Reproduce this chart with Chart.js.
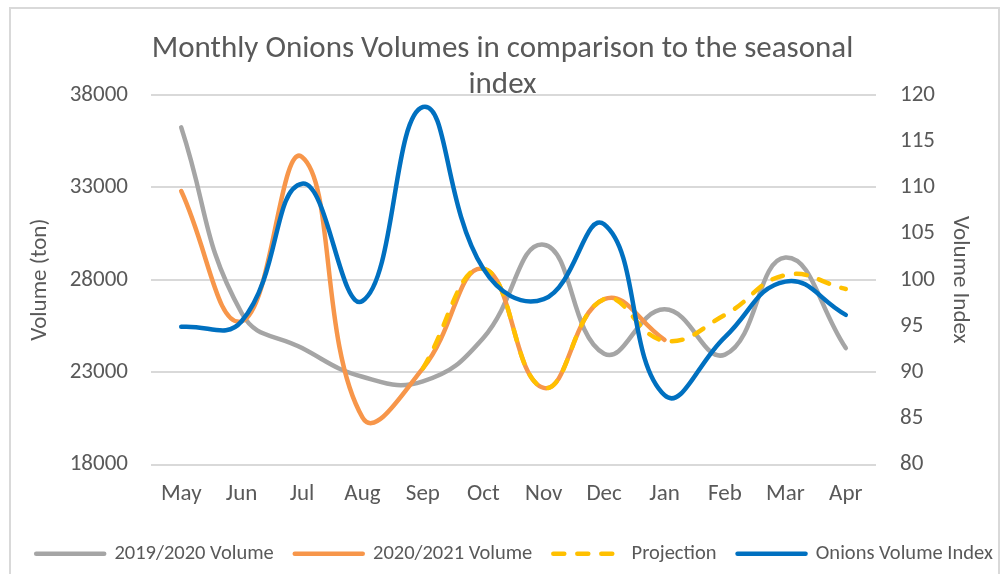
<!DOCTYPE html>
<html>
<head>
<meta charset="utf-8">
<script src="https://cdn.jsdelivr.net/npm/chart.js@4.4.1/dist/chart.umd.min.js"></script>
<style>
  html, body { margin: 0; padding: 0; background: #fff; }
  #wrap { position: absolute; left: 0; top: 0; width: 1005px; height: 574px; overflow: hidden; }
  #frame { position: absolute; left: 9px; top: 7px; width: 987px; height: 580px; border: 2px solid #d9d9d9; }
  canvas { position: absolute; left: 0; top: 0; }
</style>
</head>
<body>
<div id="wrap">
  <div id="frame"></div>
  <canvas id="onions" width="1005" height="574"></canvas>
</div>
<script>
// months of the season, May to Apr
const months = ['May', 'Jun', 'Jul', 'Aug', 'Sep', 'Oct', 'Nov', 'Dec', 'Jan', 'Feb', 'Mar', 'Apr'];

// volumes in ton (left axis)
const vol1920 = [36250, 26200, 24300, 22750, 22500, 24850, 29900, 24000, 26400, 23950, 29200, 24300];
const vol2021 = [32800, 25750, 34650, 20550, 23200, 28600, 22150, 26950, 24750, null, null, null];
const projection = [null, null, null, null, 23200, 28600, 22150, 26950, 24700, 26100, 28250, 27500];

// seasonal index (right axis)
const volIndex = [94.9, 95.5, 110.4, 97.7, 118.7, 101.2, 97.9, 106.0, 87.5, 93.8, 99.8, 96.2];

// tick ranges
const volTicks = { min: 18000, max: 38000, step: 5000 };
const idxTicks = { min: 80, max: 120, step: 5 };

const FONT = 'Carlito, Calibri, Lato, "Liberation Sans", sans-serif';
const GREY_TXT = '#595959';
const LW = 4.5;

// nudge the legend a little to the right, like the original
const legendShift = {
  id: 'legendShift',
  afterLayout(chart) {
    if (chart.legend) {
      chart.legend.left += 12;
      chart.legend.right += 12;
    }
  }
};

let ctx = document.getElementById('onions').getContext('2d');
window.onionChart = new Chart(ctx, {
  type: 'line',
  data: {
    labels: months,
    datasets: [{
      label: '2019/2020 Volume',
      data: vol1920,
      borderColor: '#a5a5a5',
      backgroundColor: '#a5a5a5',
      borderWidth: LW,
      yAxisID: 'y',
      order: 4
    }, {
      label: '2020/2021 Volume',
      data: vol2021,
      borderColor: '#f7964a',
      backgroundColor: '#f7964a',
      borderWidth: LW,
      yAxisID: 'y',
      order: 3
    }, {
      label: 'Projection',
      data: projection,
      borderColor: '#ffc000',
      backgroundColor: '#ffc000',
      borderWidth: LW,
      borderDash: [11, 13],
      yAxisID: 'y',
      order: 2
    }, {
      label: 'Onions Volume Index',
      data: volIndex,
      borderColor: '#0070c0',
      backgroundColor: '#0070c0',
      borderWidth: LW,
      yAxisID: 'y1',
      order: 1
    }]
  },
  options: {
    responsive: false,
    animation: false,
    layout: { padding: { left: 0, right: 0, top: 0, bottom: 0 } },
    elements: {
      line: { tension: 0.45, borderCapStyle: 'round', borderJoinStyle: 'round', fill: false },
      point: { radius: 0, hoverRadius: 0 }
    },
    plugins: {
      title: {
        display: true,
        text: ['Monthly Onions Volumes in comparison to the seasonal', 'index'],
        color: GREY_TXT,
        font: { family: FONT, size: 31, weight: 'normal', lineHeight: '36px' },
        padding: { top: 31, bottom: -8 }
      },
      legend: {
        position: 'bottom',
        labels: {
          usePointStyle: true,
          pointStyle: 'line',
          pointStyleWidth: 68,
          padding: 21,
          color: GREY_TXT,
          font: { family: FONT, size: 20.5 },
          sort: (a, b) => a.datasetIndex - b.datasetIndex,
          generateLabels: chart => {
            const items = Chart.defaults.plugins.legend.labels.generateLabels(chart);
            items.forEach(it => {
              const ds = chart.data.datasets[it.datasetIndex];
              it.lineDash = ds.borderDash || [];
              it.lineCap = 'round';
              it.lineWidth = LW;
            });
            return items;
          }
        }
      },
      tooltip: { enabled: false }
    },
    scales: {
      x: {
        offset: true,
        grid: { display: false },
        border: { display: false },
        ticks: { color: GREY_TXT, font: { family: FONT, size: 23 }, padding: 8 },
        afterFit: s => { s.height = 58; }
      },
      y: {
        position: 'left',
        min: volTicks.min,
        max: volTicks.max,
        border: { display: false },
        grid: { color: '#d9d9d9', lineWidth: 2, drawTicks: false },
        ticks: {
          stepSize: volTicks.step, color: GREY_TXT, font: { family: FONT, size: 23 }, padding: 23,
          callback: v => String(v)
        },
        title: { display: true, text: 'Volume (ton)', color: GREY_TXT, font: { family: FONT, size: 23 }, padding: 26 },
        afterFit: s => { s.width = 151; }
      },
      y1: {
        position: 'right',
        min: idxTicks.min,
        max: idxTicks.max,
        border: { display: false },
        grid: { display: false, drawTicks: false },
        ticks: { stepSize: idxTicks.step, color: GREY_TXT, font: { family: FONT, size: 23 }, padding: 24 },
        title: { display: true, text: 'Volume Index', color: GREY_TXT, font: { family: FONT, size: 23 }, padding: 31 },
        afterFit: s => { s.width = 129; }
      }
    }
  },
  plugins: [legendShift]
});
</script>
</body>
</html>
